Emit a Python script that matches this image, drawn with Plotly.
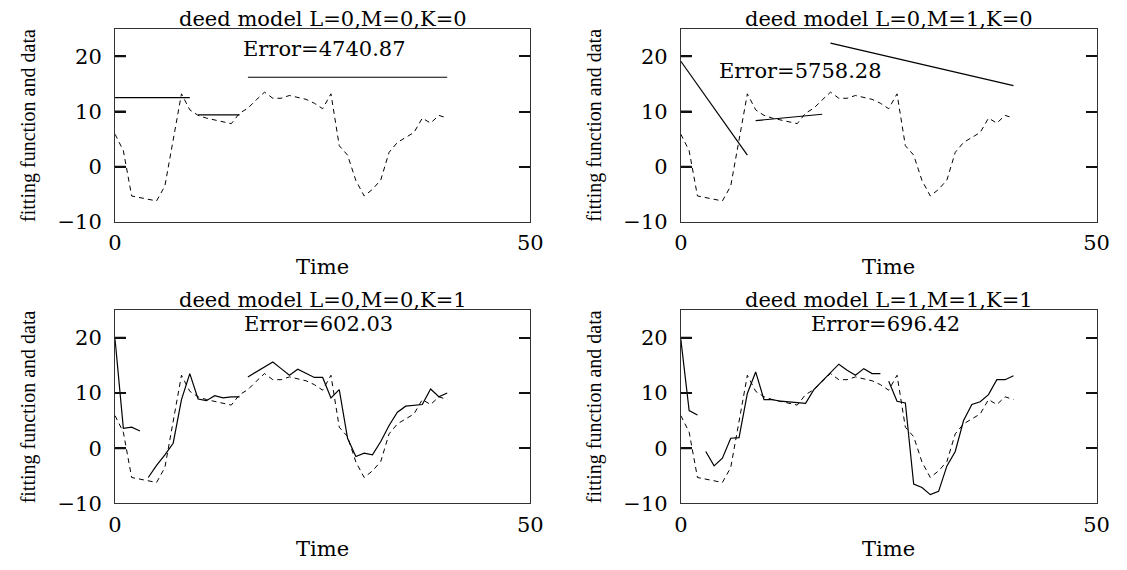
import plotly.graph_objects as go

W, H = 1127, 570

# ---------------- data ----------------
time = list(range(41))
data = [5.9, 2.9, -5.3, -5.6, -5.9, -6.2, -3.5, 4.8, 13.2, 10.3,
        9.3, 8.8, 8.5, 8.1, 7.8, 9.7, 10.6, 12.1, 13.5, 12.4,
        12.4, 12.9, 12.5, 12.2, 11.5, 10.5, 13.2, 3.8, 2.1, -2.5,
        -5.3, -4.1, -2.4, 2.6, 4.4, 5.3, 6.2, 8.8, 7.9, 9.3, 8.8]

titles = ["deed model L=0,M=0,K=0", "deed model L=0,M=1,K=0",
          "deed model L=0,M=0,K=1", "deed model L=1,M=1,K=1"]
errors = ["Error=4740.87", "Error=5758.28", "Error=602.03", "Error=696.42"]

# constant model: (t_start, t_end, level)
fit_000 = [(0, 9, 12.5), (10, 15, 9.4), (16, 40, 16.2)]
# linear model: (t_start, t_end, value_start, value_end)
fit_010 = [(0, 8, 19.1, 2.1), (9, 17, 8.35, 9.5), (18, 40, 22.4, 14.7)]
# K=1 models: (t_start, values)
fit_001 = [(0, [19.7, 3.6, 3.8, 3.1]),
           (4, [-5.3, -3.1, -1.2, 0.9, 8.8, 13.5, 8.9, 8.6, 9.5, 9.1, 9.3, 9.3]),
           (16, [12.9, 13.8, 14.7, 15.6, 14.4, 13.2, 14.3, 13.5, 12.8, 12.8,
                 9.1, 10.6, 1.8, -1.5, -0.9, -1.2, 1.2, 4.1, 6.5, 7.6,
                 7.8, 7.9, 10.7, 9.3, 10.0])]
fit_111 = [(0, [19.7, 6.8, 6.0]),
           (3, [-0.6, -3.2, -1.8, 1.8, 1.9, 9.9, 13.8, 8.8, 8.8, 8.5, 8.4,
                8.2, 8.1, 10.6, 12.1, 13.6, 15.2, 14.1, 13.2, 14.4, 13.5, 13.5]),
           (25, [12.1, 8.5, 8.2, -6.5, -7.1, -8.4, -7.8, -3.2, -0.6, 5.0,
                 7.9, 8.4, 9.7, 12.4, 12.4, 13.1])]

x_ticks = [0, 50]
y_ticks = [-10, 0, 10, 20]
x_range = [0, 50]
y_range = [-10, 25]

# ---------------- build fit polylines ----------------
def seg_const(segs):
    xs, ys = [], []
    for t0, t1, v in segs:
        xs += [t0, t1, None]; ys += [v, v, None]
    return xs, ys

def seg_lin(segs):
    xs, ys = [], []
    for t0, t1, v0, v1 in segs:
        xs += [t0, t1, None]; ys += [v0, v1, None]
    return xs, ys

def seg_pts(segs):
    xs, ys = [], []
    for t0, vals in segs:
        xs += [t0 + i for i in range(len(vals))] + [None]
        ys += list(vals) + [None]
    return xs, ys

fits = [seg_const(fit_000), seg_lin(fit_010), seg_pts(fit_001), seg_pts(fit_111)]

# ---------------- layout (pixel boxes) ----------------
boxes = [(110, 532.7, 29.3, 226.7), (686, 1109.3, 29.3, 226.7),
         (110, 532.7, 316.7, 514.3), (686, 1109.3, 316.7, 514.3)]
err_pos = [(25.2, 21.4), (14.4, 17.4), (24.5, 22.5), (24.6, 22.5)]

SERIF = "DejaVu Serif"
fig = go.Figure()
annotations = []
shapes = []
layout = {}

for i in range(4):
    sfx = "" if i == 0 else str(i + 1)
    xa, ya = "x" + sfx, "y" + sfx
    l, r, t, b = boxes[i]
    fig.add_trace(go.Scatter(x=time, y=data, mode="lines", xaxis=xa, yaxis=ya,
                             line=dict(color="black", width=1, dash="5px,4px"),
                             hoverinfo="skip"))
    fx, fy = fits[i]
    fig.add_trace(go.Scatter(x=fx, y=fy, mode="lines", xaxis=xa, yaxis=ya,
                             line=dict(color="black", width=1.2),
                             connectgaps=False, hoverinfo="skip"))
    layout["xaxis" + sfx] = dict(
        domain=[l / W, r / W], range=x_range, anchor=ya,
        tickvals=x_ticks, ticktext=[str(v) for v in x_ticks], ticks="",
        showline=True, mirror=True, linecolor="#333", linewidth=1,
        showgrid=False, zeroline=False,
        tickfont=dict(family=SERIF, size=21, color="black"),
        ticklabelstandoff=2)
    layout["yaxis" + sfx] = dict(
        domain=[1 - b / H, 1 - t / H], range=y_range, anchor=xa,
        tickvals=y_ticks, ticks="inside", ticklen=11, tickwidth=1.6,
        tickcolor="#111",
        showline=True, mirror="allticks", linecolor="#333", linewidth=1,
        showgrid=False, zeroline=False,
        tickfont=dict(family=SERIF, size=21, color="black"),
        ticklabelstandoff=8)
    # explicit inside tick marks on the left frame edge (paper-referenced)
    for yv in y_ticks[1:]:
        shapes.append(dict(type="line", xref="paper", yref=ya,
                           x0=l / W, x1=(l + 11) / W, y0=yv, y1=yv,
                           line=dict(color="#111", width=2), layer="above"))
    cx = (l + r) / 2
    annotations.append(dict(text=titles[i], x=cx / W, y=1 - (t - 10) / H,
                            xref="paper", yref="paper", showarrow=False,
                            xanchor="center", yanchor="middle",
                            font=dict(family=SERIF, size=21, color="black")))
    annotations.append(dict(text=errors[i], x=err_pos[i][0], y=err_pos[i][1],
                            xref=xa, yref=ya, showarrow=False,
                            xanchor="center", yanchor="middle",
                            font=dict(family=SERIF, size=21, color="black")))
    annotations.append(dict(text="Time", x=cx / W, y=1 - (b + 46) / H,
                            xref="paper", yref="paper", showarrow=False,
                            xanchor="center", yanchor="middle",
                            font=dict(family=SERIF, size=21, color="black")))
    annotations.append(dict(text="fitting function and data", x=(l - 88) / W,
                            y=1 - (t + b) / 2 / H, textangle=-90,
                            xref="paper", yref="paper", showarrow=False,
                            xanchor="center", yanchor="middle",
                            font=dict(family="Liberation Serif", size=20, color="black")))

fig.update_layout(width=W, height=H, autosize=False,
                  margin=dict(l=0, r=0, t=0, b=0),
                  paper_bgcolor="white", plot_bgcolor="white",
                  showlegend=False, annotations=annotations, shapes=shapes,
                  **layout)

fig.write_html("out.html")
